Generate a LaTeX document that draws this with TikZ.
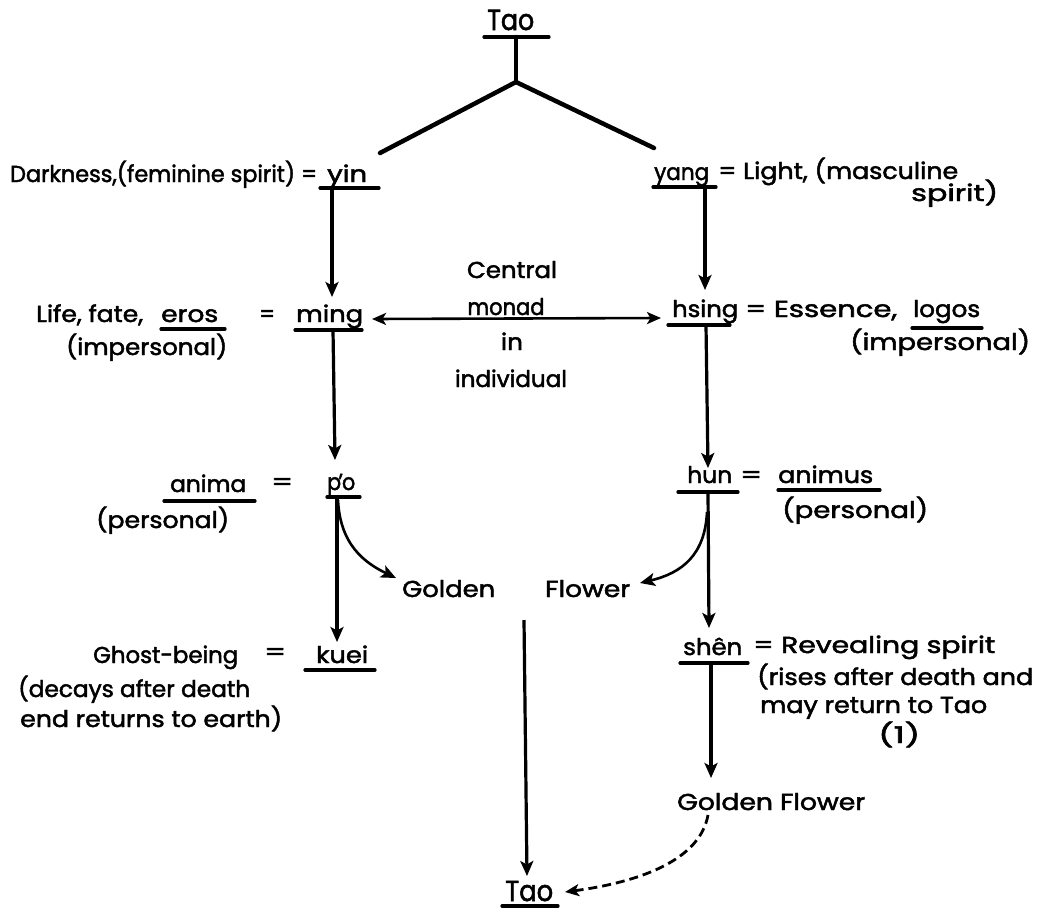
\documentclass[tikz,border=0pt]{standalone}
\usepackage{fontspec}
\setmainfont{Poppins}[FakeBold=2]
\usepackage{graphicx}
\usetikzlibrary{arrows.meta}
\newcommand\W[2]{\resizebox{#1pt}{\height}{#2}}
\begin{document}
\begin{tikzpicture}[x=1pt,y=-1pt,
  txt/.style={inner sep=0pt, anchor=base west, font=\fontsize{23}{27}\selectfont},
  big/.style={inner sep=0pt, anchor=base west, font=\fontsize{29}{33}\selectfont},
  ctr/.style={inner sep=0pt, anchor=base, font=\fontsize{23}{27}\selectfont},
  tree/.style={line width=4.5pt, line cap=round},
  ul/.style={line width=3.2pt, line cap=round},
  arr/.style={line width=3.2pt, -{Stealth[length=15pt,width=13pt,inset=3.5pt]}},
  darr/.style={line width=2.6pt, {Stealth[length=14pt,width=12pt,inset=3.5pt]}-{Stealth[length=14pt,width=12pt,inset=3.5pt]}},
  dash arr/.style={line width=2.8pt, dash pattern=on 9pt off 5pt, -{Stealth[length=14pt,width=12pt,inset=3.5pt]}}
]
\useasboundingbox (0,0) rectangle (1047,911);

% ---------- texts ----------
\node[big] (tao1) at (487,30) {\W{47}{Tao}};
\node[txt] (dark) at (10,182) {\W{307}{Darkness,(feminine spirit) =}};
\node[txt] (yin) at (327,182) {\W{40}{yin}};
\node[txt] (yang) at (654,180) {\W{55}{yang}};
\node[txt] (light) at (718,179) {\W{240}{= Light, (masculine}};
\node[txt] (spirit) at (911,201) {\W{87}{spirit)}};

\node[txt] (life) at (36,322) {\W{107}{Life, fate,}};
\node[txt] (eros) at (161,322) {\W{57}{eros}};
\node[txt] (eq1) at (259,322) {\W{16}{=}};
\node[txt] (ming) at (296,322) {\W{67}{ming}};
\node[txt] (imp1) at (66,355) {\W{161}{(impersonal)}};

\node[ctr] (cen1) at (512,278) {\W{90}{Central}};
\node[ctr] (cen2) at (506,315) {\W{77}{monad}};
\node[ctr] (cen3) at (512,350) {\W{22}{in}};
\node[ctr] (cen4) at (511,387) {\W{112}{individual}};

\node[txt] (hsing) at (672,317) {\W{66}{hsing}};
\node[txt] (ess) at (745,317) {\W{152}{= Essence,}};
\node[txt] (logos) at (913,317) {\W{67}{logos}};
\node[txt] (imp2) at (850,350) {\W{180}{(impersonal)}};

\node[txt] (anima) at (170,492) {\W{76}{anima}};
\node[txt] (eq2) at (271,490) {\W{22}{=}};
\node[txt] (po) at (327,490) {\W{28}{p\kern-3pt’\kern-1pt o}};
\node[txt] (pers1) at (96,528) {\W{133}{(personal)}};

\node[txt] (hun) at (687,483) {\W{45}{hun}};
\node[txt] (eq3) at (740,483) {\W{22}{=}};
\node[txt] (animus) at (778,483) {\W{95}{animus}};
\node[txt] (pers2) at (782,518) {\W{146}{(personal)}};

\node[txt] (golden) at (402,597) {\W{93}{Golden}};
\node[txt] (flower) at (545,597) {\W{85}{Flower}};

\node[txt] (ghost) at (93,663) {\W{145}{Ghost-being}};
\node[txt] (eq4) at (264,660) {\W{22}{=}};
\node[txt] (kuei) at (316,663) {\W{52}{kuei}};
\node[txt] (decays) at (18,697) {\W{232}{(decays after death}};
\node[txt] (returns) at (20,727) {\W{262}{end returns to earth)}};

\node[txt] (shen) at (683,655) {\W{59}{shên}};
\node[txt] (reveal) at (753,653) {\W{242}{= Revealing spirit}};
\node[txt] (rises) at (757,685) {\W{276}{(rises after death and}};
\node[txt] (may) at (760,713) {\W{227}{may return to Tao}};
\node[txt] (one) at (878,743) {\W{42}{(1)}};

\node[txt] (gf) at (677,810) {\W{188}{Golden Flower}};
\node[big] (tao2) at (505,901) {\W{48}{Tao}};

% ---------- underlines ----------
\draw[ul] (484,37) -- (549,37);
\draw[ul] (320,188) -- (379,188);
\draw[ul] (653,187) -- (716,187);
\draw[ul] (161,329) -- (225,329);
\draw[ul] (295,330) -- (362,330);
\draw[ul] (668,325) -- (730,325);
\draw[ul] (912,328) -- (982,328);
\draw[ul] (164,501) -- (255,501);
\draw[ul] (327,497) -- (360,497);
\draw[ul] (678,492) -- (738,492);
\draw[ul] (778,490) -- (880,490);
\draw[ul] (305,670) -- (375,670);
\draw[ul] (680,663) -- (748,663);
\draw[ul] (502,906) -- (558,906);

% ---------- connector points ----------
\coordinate (taoS) at (516,37);
\coordinate (fork) at (516,82);
\coordinate (brL) at (380,153);
\coordinate (brR) at (654,148);
\coordinate (yinS) at (332,188);
\coordinate (mingN) at (332,297);
\coordinate (yangS) at (705,187);
\coordinate (hsingN) at (705,290);
\coordinate (mingE) at (372,319);
\coordinate (hsingW) at (661,318);
\coordinate (mingS) at (333,330);
\coordinate (poN) at (335,460);
\coordinate (hsingS) at (706,325);
\coordinate (hunN) at (708,468);
\coordinate (poS) at (337,497);
\coordinate (kueiN) at (337,642);
\coordinate (poC) at (338,500);
\coordinate (goldenW) at (396,578);
\coordinate (hunS) at (708,492);
\coordinate (shenN) at (709,628);
\coordinate (hunC) at (707,512);
\coordinate (flowerE) at (640,583);
\coordinate (shenS) at (711,663);
\coordinate (gfN) at (711,778);
\coordinate (gfPair) at (524,620);
\coordinate (tao2N) at (527,876);
\coordinate (gfS) at (708,815);
\coordinate (tao2E) at (565,892);

% ---------- connectors ----------
\draw[tree] (taoS) -- (fork);
\draw[tree] (fork) -- (brL);
\draw[tree] (fork) -- (brR);
\draw[arr] (yinS) -- (mingN);
\draw[arr] (yangS) -- (hsingN);
\draw[darr] (mingE) -- (hsingW);
\draw[arr] (mingS) -- (poN);
\draw[arr] (hsingS) -- (hunN);
\draw[arr] (poS) -- (kueiN);
\draw[arr, line width=2.6pt] (poC) .. controls (340,545) and (365,563) .. (goldenW);
\draw[arr] (hunS) -- (shenN);
\draw[arr, line width=2.6pt] (hunC) .. controls (705,555) and (682,573) .. (flowerE);
\draw[arr] (shenS) -- (gfN);
\draw[arr] (gfPair) -- (tao2N);
\draw[dash arr] (gfS) .. controls (700,860) and (640,882) .. (tao2E);
\end{tikzpicture}
\end{document}
